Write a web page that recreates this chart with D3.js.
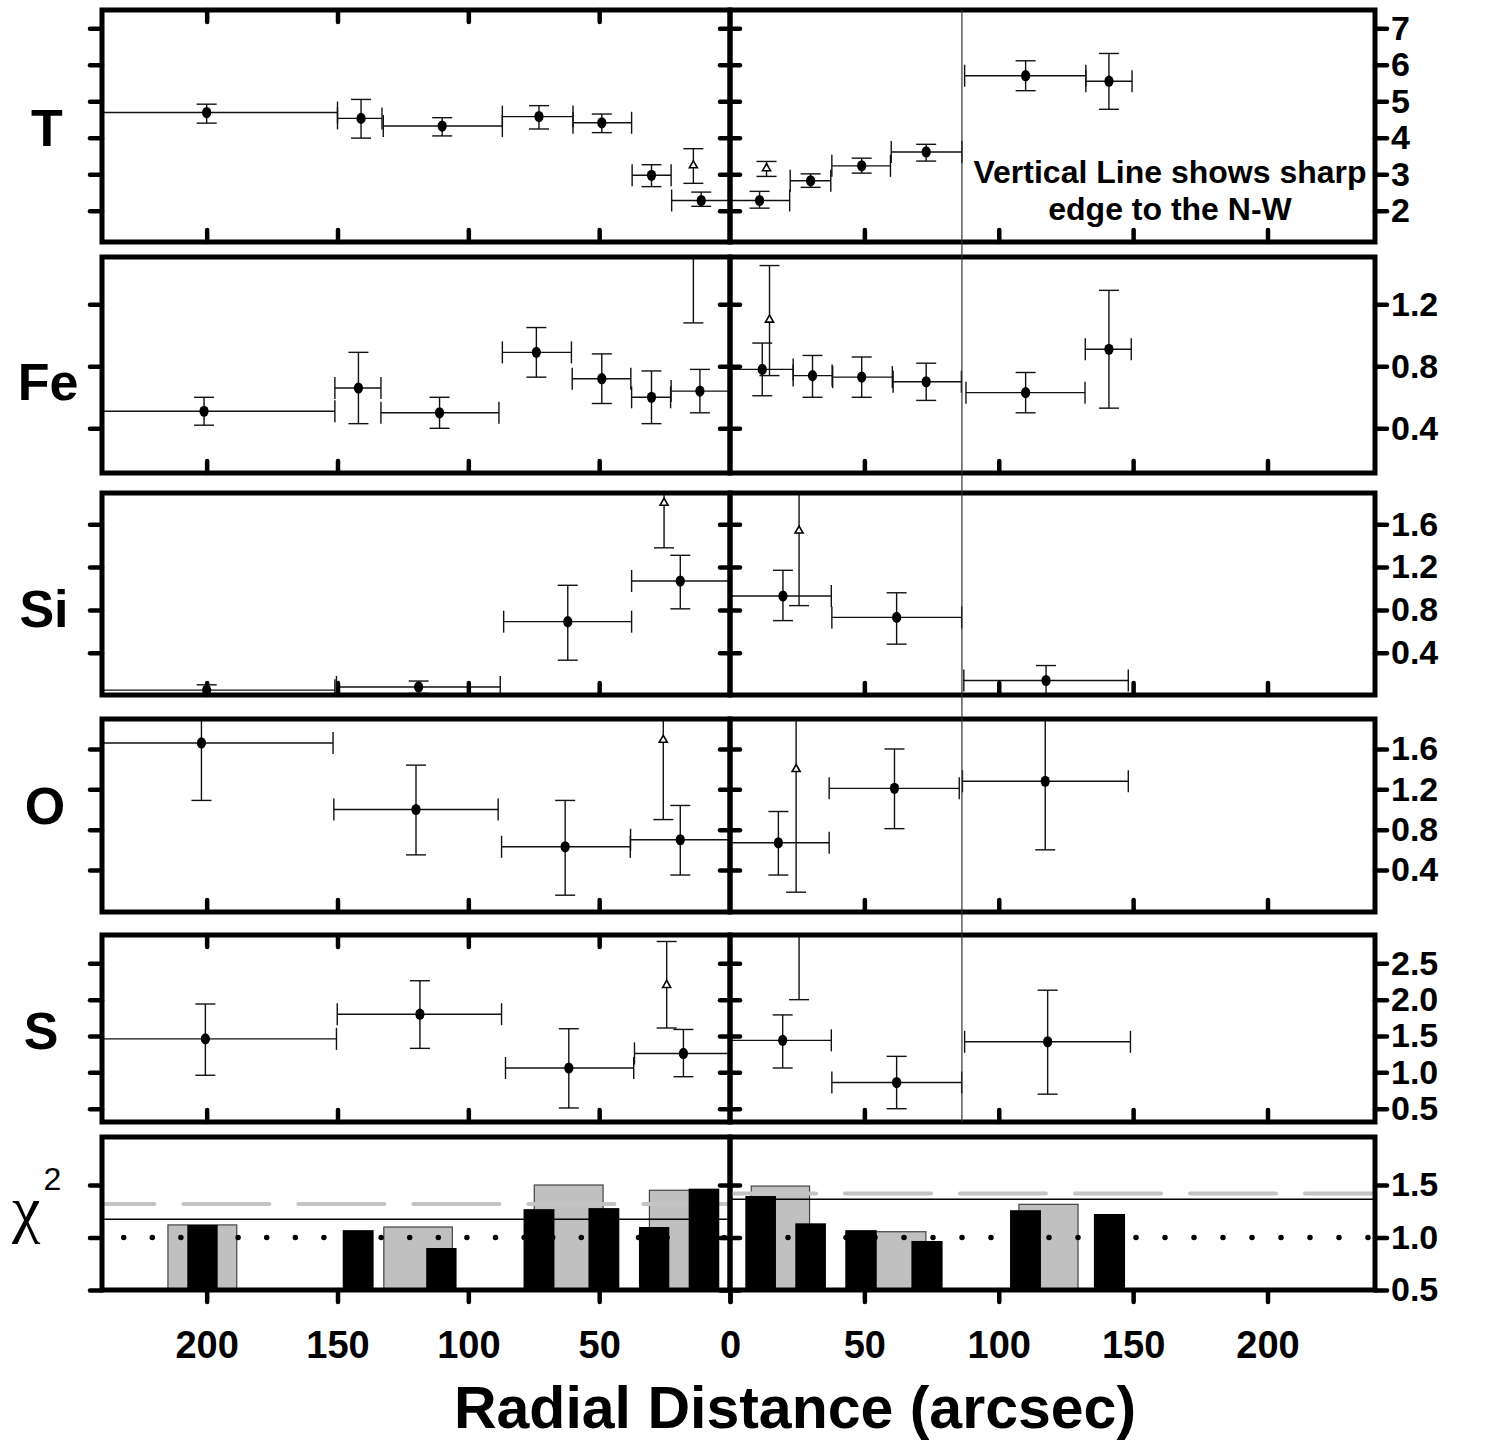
<!DOCTYPE html>
<html>
<head>
<meta charset="utf-8">
<script src="https://cdn.jsdelivr.net/npm/d3@7"></script>
<style>
body { margin: 0; background: #fff; }
text { font-family: "Liberation Sans", Arial, sans-serif; font-weight: bold; }
</style>
</head>
<body>
<div id="viz"></div>
<script>
// ---- data (radius in arcsec, left = S-E side, right = N-W side) ----
// r = bin centre, r0/r1 = bin edges, v = value, v0/v1 = error range
var tLeft = [
  {r: 200, v: 4.69, r0: 150, r1: 250, v0: 4.40, v1: 4.92},
  {r: 141, v: 4.53, r0: 133, r1: 150, v0: 3.99, v1: 5.05},
  {r: 110, v: 4.32, r0: 87, r1: 132.5, v0: 4.05, v1: 4.55},
  {r: 73, v: 4.58, r0: 60, r1: 87, v0: 4.24, v1: 4.88},
  {r: 49, v: 4.41, r0: 37.6, r1: 60, v0: 4.14, v1: 4.65},
  {r: 30, v: 2.97, r0: 22.5, r1: 37.4, v0: 2.66, v1: 3.26},
  {r: 11, v: 2.28, r0: 0, r1: 22.3, v0: 2.12, v1: 2.51}
];
var tLeftOpen = [{r: 14, v: 3.24, v0: 2.75, v1: 3.70}];
var tRight = [
  {r: 11, v: 2.28, r0: 0, r1: 22.2, v0: 2.07, v1: 2.53},
  {r: 30, v: 2.82, r0: 22.4, r1: 37.5, v0: 2.64, v1: 3.01},
  {r: 49, v: 3.23, r0: 37.9, r1: 59.7, v0: 3.03, v1: 3.44},
  {r: 73, v: 3.61, r0: 60, r1: 86.3, v0: 3.36, v1: 3.82},
  {r: 110, v: 5.70, r0: 87.3, r1: 132.4, v0: 5.29, v1: 6.11},
  {r: 141, v: 5.55, r0: 132.4, r1: 149.6, v0: 4.78, v1: 6.31}
];
var tRightOpen = [{r: 13.6, v: 3.16, v0: 2.94, v1: 3.35}];

var feLeft = [
  {r: 201, v: 0.51, r0: 151, r1: 250, v0: 0.42, v1: 0.60},
  {r: 142, v: 0.66, r0: 133.4, r1: 151, v0: 0.43, v1: 0.89},
  {r: 111, v: 0.50, r0: 88.3, r1: 133.4, v0: 0.40, v1: 0.60},
  {r: 74, v: 0.89, r0: 60.6, r1: 87, v0: 0.73, v1: 1.05},
  {r: 49, v: 0.72, r0: 37.9, r1: 60.3, v0: 0.56, v1: 0.88},
  {r: 30, v: 0.60, r0: 22.7, r1: 37.6, v0: 0.43, v1: 0.77},
  {r: 11.5, v: 0.64, r0: 0, r1: 22.5, v0: 0.50, v1: 0.78}
];
var feLeftOpen = [{r: 14, v: 1.8, v0: 1.08, v1: 2.5}];
var feRight = [
  {r: 12, v: 0.78, r0: 0, r1: 23.5, v0: 0.61, v1: 0.95},
  {r: 30.7, v: 0.74, r0: 23.5, r1: 38, v0: 0.60, v1: 0.87},
  {r: 49, v: 0.73, r0: 38.2, r1: 60.4, v0: 0.60, v1: 0.86},
  {r: 73, v: 0.70, r0: 60.7, r1: 86.1, v0: 0.58, v1: 0.82},
  {r: 110, v: 0.63, r0: 87.8, r1: 132.1, v0: 0.50, v1: 0.76},
  {r: 141, v: 0.91, r0: 132.2, r1: 149.3, v0: 0.53, v1: 1.29}
];
var feRightOpen = [{r: 14.7, v: 1.10, v0: 0.74, v1: 1.45}];

var siLeft = [
  {r: 200, v: 0.05, r0: 151, r1: 250, v0: 0.0, v1: 0.10},
  {r: 119, v: 0.08, r0: 87.8, r1: 150.4, v0: 0.02, v1: 0.135},
  {r: 62, v: 0.69, r0: 37.6, r1: 86.5, v0: 0.33, v1: 1.03},
  {r: 19, v: 1.07, r0: 0, r1: 37.6, v0: 0.81, v1: 1.31}
];
var siLeftOpen = [{r: 25.2, v: 1.80, v0: 1.38, v1: 2.3}];
var siRight = [
  {r: 19.7, v: 0.93, r0: 0, r1: 37.7, v0: 0.70, v1: 1.17},
  {r: 62, v: 0.73, r0: 37.9, r1: 86.2, v0: 0.48, v1: 0.96},
  {r: 117.6, v: 0.14, r0: 87, r1: 148.2, v0: 0.0, v1: 0.28}
];
var siRightOpen = [{r: 25.7, v: 1.54, v0: 0.84, v1: 2.3}];

var oLeft = [
  {r: 202, v: 1.66, r0: 151.7, r1: 250, v0: 1.09, v1: 2.3},
  {r: 120, v: 1.00, r0: 88.6, r1: 151.4, v0: 0.55, v1: 1.44},
  {r: 63, v: 0.63, r0: 38.1, r1: 87.3, v0: 0.15, v1: 1.09},
  {r: 19, v: 0.70, r0: 0, r1: 38, v0: 0.35, v1: 1.04}
];
var oLeftOpen = [{r: 25.5, v: 1.69, v0: 0.90, v1: 2.3}];
var oRight = [
  {r: 18, v: 0.67, r0: 0, r1: 36.9, v0: 0.35, v1: 0.98},
  {r: 61.2, v: 1.21, r0: 36.9, r1: 85.3, v0: 0.81, v1: 1.60},
  {r: 117.3, v: 1.28, r0: 86.5, r1: 148.2, v0: 0.60, v1: 2.3}
];
var oRightOpen = [{r: 24.6, v: 1.40, v0: 0.18, v1: 2.3}];

var sLeft = [
  {r: 200.5, v: 1.46, r0: 150.4, r1: 250, v0: 0.96, v1: 1.94},
  {r: 118.5, v: 1.80, r0: 87.3, r1: 150.1, v0: 1.33, v1: 2.26},
  {r: 61.6, v: 1.06, r0: 36.8, r1: 85.8, v0: 0.51, v1: 1.60},
  {r: 17.8, v: 1.26, r0: 0, r1: 36.5, v0: 0.94, v1: 1.59}
];
var sLeftOpen = [{r: 24.2, v: 2.20, v0: 1.61, v1: 2.80}];
var sRight = [
  {r: 19.6, v: 1.44, r0: 0, r1: 37.7, v0: 1.06, v1: 1.79},
  {r: 62, v: 0.86, r0: 37.9, r1: 86.2, v0: 0.50, v1: 1.22},
  {r: 118.2, v: 1.42, r0: 87.3, r1: 149, v0: 0.70, v1: 2.13}
];
var sRightOpen = [{r: 25.7, v: 3.3, v0: 2.00, v1: 4.0}];

// reduced chi^2 of the fits: black = T/Fe bins, grey = Si/O/S bins
var chiLeftGrey = [
  {r0: 188.5, r1: 214.8, v: 1.12},
  {r0: 106.1, r1: 132.3, v: 1.10},
  {r0: 48.5, r1: 74.8, v: 1.50},
  {r0: 4.5, r1: 30.8, v: 1.45}
];
var chiLeftBlack = [
  {r0: 195.8, r1: 207.4, v: 1.12},
  {r0: 136.2, r1: 148, v: 1.07},
  {r0: 104.5, r1: 116.1, v: 0.90},
  {r0: 67.1, r1: 78.9, v: 1.27},
  {r0: 42.3, r1: 54.1, v: 1.28},
  {r0: 23.2, r1: 34.8, v: 1.10},
  {r0: 4.1, r1: 15.8, v: 1.465}
];
var chiRightGrey = [
  {r0: 7.9, r1: 29.6, v: 1.49},
  {r0: 51, r1: 72.9, v: 1.055},
  {r0: 107.5, r1: 129.5, v: 1.316}
];
var chiRightBlack = [
  {r0: 5.7, r1: 17.1, v: 1.395},
  {r0: 24.3, r1: 35.7, v: 1.135},
  {r0: 42.9, r1: 54.6, v: 1.07},
  {r0: 67.5, r1: 79.1, v: 0.967},
  {r0: 104.2, r1: 115.7, v: 1.26},
  {r0: 135.4, r1: 147, v: 1.224}
];
var chiDashed = [1.32, 1.42];   // left, right
var chiSolid = [1.173, 1.364];  // left, right
var chiDotted = 1.0;
var edgeRadius = 86.3;          // sharp N-W edge

// ---- ticks ----
var xTicks = [50, 100, 150, 200];
var tTicks = [2, 3, 4, 5, 6, 7];
var feTicks = [0.4, 0.8, 1.2];
var siTicks = [0.4, 0.8, 1.2, 1.6];
var oTicks = [0.4, 0.8, 1.2, 1.6];
var sTicks = [0.5, 1.0, 1.5, 2.0, 2.5];
var chiTicks = [0.5, 1.0, 1.5];

// ---- layout ----
var xl = d3.scaleLinear().domain([0, 240]).range([730, 102]);
var xr = d3.scaleLinear().domain([0, 240]).range([730, 1375]);
var xMid = 730, xLeftEdge = 102, xRightEdge = 1375;
var labelSize = 34;

var rows = [
  {key: "T", label: "T", top: 10, bottom: 242, tv: [2, 7], tp: [210.7, 28.3], ticks: tTicks, fmt: d3.format("d"),
   left: tLeft, leftOpen: tLeftOpen, right: tRight, rightOpen: tRightOpen, topTicks: true, lx: 47, ly: 127},
  {key: "Fe", label: "Fe", top: 257, bottom: 473, tv: [0.4, 1.2], tp: [428.3, 304.3], ticks: feTicks, fmt: d3.format(".1f"),
   left: feLeft, leftOpen: feLeftOpen, right: feRight, rightOpen: feRightOpen, topTicks: false, lx: 48, ly: 381},
  {key: "Si", label: "Si", top: 493, bottom: 695, tv: [0.4, 1.6], tp: [652.7, 524.3], ticks: siTicks, fmt: d3.format(".1f"),
   left: siLeft, leftOpen: siLeftOpen, right: siRight, rightOpen: siRightOpen, topTicks: false, lx: 44, ly: 608},
  {key: "O", label: "O", top: 719, bottom: 912, tv: [0.4, 1.6], tp: [870, 749], ticks: oTicks, fmt: d3.format(".1f"),
   left: oLeft, leftOpen: oLeftOpen, right: oRight, rightOpen: oRightOpen, topTicks: false, lx: 45, ly: 805},
  {key: "S", label: "S", top: 935, bottom: 1122, tv: [0.5, 2.5], tp: [1108.7, 963.3], ticks: sTicks, fmt: d3.format(".1f"),
   left: sLeft, leftOpen: sLeftOpen, right: sRight, rightOpen: sRightOpen, topTicks: true, lx: 41, ly: 1030}
];
var chiRow = {key: "chi", top: 1137, bottom: 1290, tv: [0.5, 1.5], tp: [1290, 1185], ticks: chiTicks};

var svg = d3.select("#viz").append("svg")
    .attr("width", 1491)
    .attr("height", 1446);
var defs = svg.append("defs");

function yScaleFor(row) {
  return d3.scaleLinear().domain(row.tv).range(row.tp);
}

function clipFor(row, side) {
  var id = "clip-" + row.key + "-" + side;
  var x0 = side === "left" ? xLeftEdge : xMid;
  var x1 = side === "left" ? xMid : xRightEdge;
  defs.append("clipPath").attr("id", id)
    .append("rect")
      .attr("x", x0).attr("y", row.top)
      .attr("width", x1 - x0).attr("height", row.bottom - row.top);
  return svg.append("g").attr("clip-path", "url(#" + id + ")");
}

function styleTicks(g, size) {
  g.select(".domain").remove();
  g.selectAll(".tick line")
    .attr("stroke", "#000")
    .attr("stroke-width", 4.5)
    .attr("stroke-linecap", "round");
  g.selectAll(".tick text")
    .attr("fill", "#000")
    .style("font-family", "'Liberation Sans', Arial, sans-serif")
    .style("font-weight", "bold")
    .style("font-size", (size || labelSize) + "px");
  return g;
}

function drawErrors(g, xs, y, pts, open) {
  var pg = g.selectAll(null)
    .data(pts)
    .enter()
    .append("g")
      .attr("stroke", "#111")
      .attr("stroke-width", 1.4)
      .attr("fill", "none");

  if (!open) {
    // horizontal bin width
    pg.append("line")
      .attr("x1", function(d) { return xs(d.r0); })
      .attr("x2", function(d) { return xs(d.r1); })
      .attr("y1", function(d) { return y(d.v); })
      .attr("y2", function(d) { return y(d.v); });
    ["r0", "r1"].forEach(function(k) {
      pg.append("line")
        .attr("x1", function(d) { return xs(d[k]); })
        .attr("x2", function(d) { return xs(d[k]); })
        .attr("y1", function(d) { return y(d.v) - 11; })
        .attr("y2", function(d) { return y(d.v) + 11; });
    });
  }
  // vertical error
  pg.append("line")
    .attr("x1", function(d) { return xs(d.r); })
    .attr("x2", function(d) { return xs(d.r); })
    .attr("y1", function(d) { return y(d.v0); })
    .attr("y2", function(d) { return y(d.v1); });
  ["v0", "v1"].forEach(function(k) {
    pg.append("line")
      .attr("x1", function(d) { return xs(d.r) - 10; })
      .attr("x2", function(d) { return xs(d.r) + 10; })
      .attr("y1", function(d) { return y(d[k]); })
      .attr("y2", function(d) { return y(d[k]); });
  });

  if (open) {
    pg.append("path")
      .attr("d", d3.symbol(d3.symbolTriangle, 28))
      .attr("transform", function(d) { return "translate(" + xs(d.r) + "," + y(d.v) + ")"; })
      .attr("fill", "#fff")
      .attr("stroke", "#000")
      .attr("stroke-width", 1.6);
  } else {
    pg.append("ellipse")
      .attr("cx", function(d) { return xs(d.r); })
      .attr("cy", function(d) { return y(d.v); })
      .attr("rx", 4.6)
      .attr("ry", 5.6)
      .attr("fill", "#000")
      .attr("stroke", "none");
  }
}

function drawFrame(row, side) {
  var x0 = side === "left" ? xLeftEdge : xMid;
  var x1 = side === "left" ? xMid : xRightEdge;
  svg.append("rect")
    .attr("x", x0).attr("y", row.top)
    .attr("width", x1 - x0).attr("height", row.bottom - row.top)
    .attr("fill", "none")
    .attr("stroke", "#000")
    .attr("stroke-width", 5);
}

/* Element panels */
rows.forEach(function(row) {
  var y = yScaleFor(row);

  var gl = clipFor(row, "left");
  drawErrors(gl, xl, y, row.left, false);
  drawErrors(gl, xl, y, row.leftOpen, true);

  var gr = clipFor(row, "right");
  drawErrors(gr, xr, y, row.right, false);
  drawErrors(gr, xr, y, row.rightOpen, true);

  drawFrame(row, "left");
  drawFrame(row, "right");

  // y ticks: outer left, shared middle, outer right with labels
  styleTicks(svg.append("g").attr("transform", "translate(" + xLeftEdge + ",0)")
    .call(d3.axisLeft(y).tickValues(row.ticks).tickSize(12).tickFormat("")));
  styleTicks(svg.append("g").attr("transform", "translate(" + (xMid + 10) + ",0)")
    .call(d3.axisLeft(y).tickValues(row.ticks).tickSize(20).tickFormat("")));
  styleTicks(svg.append("g").attr("transform", "translate(" + xRightEdge + ",0)")
    .call(d3.axisRight(y).tickValues(row.ticks).tickSize(12).tickPadding(4).tickFormat(row.fmt)));

  // x ticks, pointing inwards
  styleTicks(svg.append("g").attr("transform", "translate(0," + row.bottom + ")")
    .call(d3.axisBottom(xl).tickValues(xTicks).tickSize(-12).tickFormat("")));
  styleTicks(svg.append("g").attr("transform", "translate(0," + row.bottom + ")")
    .call(d3.axisBottom(xr).tickValues(xTicks).tickSize(-12).tickFormat("")));
  if (row.topTicks) {
    styleTicks(svg.append("g").attr("transform", "translate(0," + row.top + ")")
      .call(d3.axisTop(xl).tickValues(xTicks).tickSize(-12).tickFormat("")));
  }

  svg.append("text")
    .attr("x", row.lx)
    .attr("y", row.ly)
    .attr("dy", "0.36em")
    .attr("text-anchor", "middle")
    .attr("font-size", "52px")
    .text(row.label);
});

/* chi^2 panel */
var yc = yScaleFor(chiRow);
[["left", xl, chiLeftGrey, chiLeftBlack, 0, 33.6],
 ["right", xr, chiRightGrey, chiRightBlack, 1, 0]].forEach(function(p) {
  var side = p[0], xs = p[1], g = clipFor(chiRow, side);
  var xa = side === "left" ? xLeftEdge : xMid;
  var xb = side === "left" ? xMid : xRightEdge;

  g.selectAll(null).data(p[2]).enter().append("rect")
    .attr("x", function(d) { return Math.min(xs(d.r0), xs(d.r1)); })
    .attr("width", function(d) { return Math.abs(xs(d.r1) - xs(d.r0)); })
    .attr("y", function(d) { return yc(d.v); })
    .attr("height", function(d) { return yc(0.5) - yc(d.v); })
    .attr("fill", "#c0c0c0")
    .attr("stroke", "#444")
    .attr("stroke-width", 1.2);

  // chi^2 = 1 reference (dotted)
  g.append("line")
    .attr("x1", xa).attr("x2", xb)
    .attr("y1", yc(chiDotted)).attr("y2", yc(chiDotted))
    .attr("stroke", "#000")
    .attr("stroke-width", 5.5)
    .attr("stroke-linecap", "round")
    .attr("stroke-dasharray", side === "left" ? "0,28.6" : "0,29")
    .attr("stroke-dashoffset", side === "left" ? 6.9 : 0);

  g.append("line")
    .attr("x1", xa).attr("x2", xb)
    .attr("y1", yc(chiDashed[p[4]])).attr("y2", yc(chiDashed[p[4]]))
    .attr("stroke", "#c4c4c4")
    .attr("stroke-width", 4)
    .attr("stroke-linecap", "round")
    .attr("stroke-dasharray", "86,29")
    .attr("stroke-dashoffset", p[5]);

  g.append("line")
    .attr("x1", xa).attr("x2", xb)
    .attr("y1", yc(chiSolid[p[4]])).attr("y2", yc(chiSolid[p[4]]))
    .attr("stroke", "#000")
    .attr("stroke-width", 1.5);

  g.selectAll(null).data(p[3]).enter().append("rect")
    .attr("x", function(d) { return Math.min(xs(d.r0), xs(d.r1)); })
    .attr("width", function(d) { return Math.abs(xs(d.r1) - xs(d.r0)); })
    .attr("y", function(d) { return yc(d.v); })
    .attr("height", function(d) { return yc(0.5) - yc(d.v); })
    .attr("fill", "#000");

  drawFrame(chiRow, side);
});

styleTicks(svg.append("g").attr("transform", "translate(" + xLeftEdge + ",0)")
  .call(d3.axisLeft(yc).tickValues(chiTicks).tickSize(12).tickFormat("")));
styleTicks(svg.append("g").attr("transform", "translate(" + (xMid + 10) + ",0)")
  .call(d3.axisLeft(yc).tickValues(chiTicks).tickSize(20).tickFormat("")));
styleTicks(svg.append("g").attr("transform", "translate(" + xRightEdge + ",0)")
  .call(d3.axisRight(yc).tickValues(chiTicks).tickSize(12).tickPadding(4).tickFormat(d3.format(".1f"))));

// bottom axes carry the radius labels
styleTicks(svg.append("g").attr("transform", "translate(0," + chiRow.bottom + ")")
  .call(d3.axisBottom(xl).tickValues([0].concat(xTicks)).tickSize(12).tickPadding(29)), 38);
styleTicks(svg.append("g").attr("transform", "translate(0," + chiRow.bottom + ")")
  .call(d3.axisBottom(xr).tickValues([0].concat(xTicks)).tickSize(12).tickPadding(29)
    .tickFormat(function(d) { return d === 0 ? "" : d; })), 38);

// chi^2 row label
var chiLabel = svg.append("text")
  .attr("x", 12)
  .attr("y", 1230);
chiLabel.append("tspan")
  .style("font-family", "'Liberation Serif', 'Times New Roman', serif")
  .style("font-weight", "normal")
  .attr("font-size", "64px")
  .text("\u03c7");
chiLabel.append("tspan")
  .attr("dy", "-40")
  .attr("dx", "3")
  .style("font-weight", "normal")
  .attr("font-size", "32px")
  .text("2");

/* sharp edge marker across the element panels */
svg.append("line")
  .attr("x1", xr(edgeRadius)).attr("x2", xr(edgeRadius))
  .attr("y1", rows[0].top).attr("y2", rows[rows.length - 1].bottom)
  .attr("stroke", "#333")
  .attr("stroke-width", 1.2);

var note = svg.append("text")
  .attr("text-anchor", "middle")
  .attr("font-size", "32px");
note.append("tspan").attr("x", 1170).attr("y", 183).text("Vertical Line shows sharp");
note.append("tspan").attr("x", 1170).attr("y", 220).text("edge to the N-W");

// x axis title
svg.append("text")
  .attr("x", 795)
  .attr("y", 1428)
  .attr("text-anchor", "middle")
  .attr("font-size", "59px")
  .text("Radial Distance (arcsec)");
</script>
</body>
</html>
